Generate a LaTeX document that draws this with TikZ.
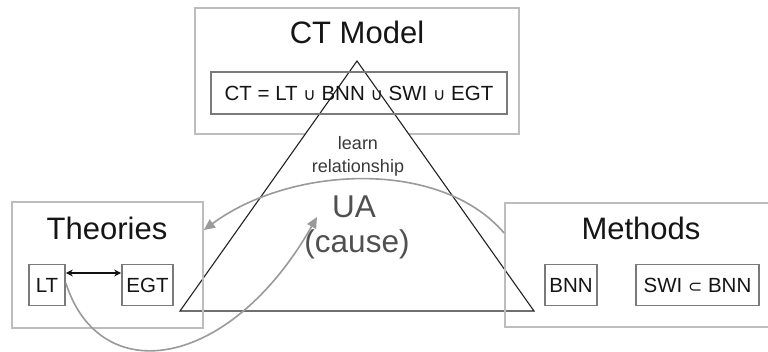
\documentclass[tikz,border=0pt]{standalone}
\usepackage{fontspec}
\setmainfont{Liberation Sans}
\newfontfamily\symfont{DejaVu Sans}
\usetikzlibrary{arrows.meta}
\definecolor{outerline}{HTML}{BDBDBD}
\definecolor{innerline}{HTML}{7A7A7A}
\definecolor{curvecol}{HTML}{9A9A9A}
\definecolor{txt}{HTML}{151515}
\definecolor{notecol}{HTML}{3A3A3A}
\definecolor{uacol}{HTML}{505050}
\definecolor{tricol}{HTML}{222222}
\definecolor{linkcol}{HTML}{111111}
\newcommand\cupsym{{\symfont\fontsize{17}{17}\selectfont ∪}}
\newcommand\subsym{{\symfont\fontsize{17}{17}\selectfont ⊂}}
\begin{document}
\begin{tikzpicture}[x=1pt,y=-1pt,
  outerbox/.style={draw=outerline,line width=1.8pt,inner sep=0pt},
  smallbox/.style={draw=innerline,line width=1.7pt,inner sep=0pt,text=txt,font=\fontsize{20.5}{22}\selectfont},
  bigtext/.style={text=txt,font=\fontsize{31}{34}\selectfont,inner sep=0pt,anchor=base},
  notetext/.style={text=notecol,font=\fontsize{18}{20}\selectfont,inner sep=0pt,anchor=base},
  uatext/.style={text=uacol,font=\fontsize{31.5}{34}\selectfont,inner sep=0pt,anchor=base},
  flow/.style={draw=curvecol,line width=1.6pt,-{Triangle[length=11pt,width=10pt,fill=curvecol]}},
  linkarrow/.style={draw=linkcol,line width=1.1pt,{Stealth[length=7pt,width=7pt]}-{Stealth[length=7pt,width=7pt]}},
  trianglestyle/.style={draw=tricol,line width=1.1pt,fill=white}]
\useasboundingbox (0,0) rectangle (768,351);
\clip (0,0) rectangle (768,351);
\fill[white] (0,0) rectangle (768,351);

% CT model box
\node[outerbox,minimum width=324,minimum height=126] (ctbox) at (357,71) {};
\node[bigtext] (cttitle) at (357,43) {CT Model};

% triangle
\coordinate (apex) at (357,61);
\coordinate (leftcorner) at (180,311);
\coordinate (rightcorner) at (534,311);
\draw[trianglestyle] (apex) -- (leftcorner) -- (rightcorner) -- cycle;

\node[smallbox,minimum width=296,minimum height=42] (ctset) at (359,93) {CT = LT \cupsym\ BNN \cupsym\ SWI \cupsym\ EGT};

% Theories
\node[outerbox,minimum width=191,minimum height=126] (theories) at (107.5,265) {};
\node[bigtext] (theorytitle) at (107,239) {Theories};
\node[smallbox,minimum width=36,minimum height=41] (lt) at (47,285) {LT};
\node[smallbox,minimum width=51,minimum height=41] (egt) at (147.5,285) {EGT};
\draw[linkarrow] ([yshift=12pt]lt.east) -- ([yshift=12pt]egt.west);

% Methods
\node[outerbox,minimum width=280,minimum height=124] (methods) at (645,265) {};
\node[bigtext] (methodtitle) at (641,239) {Methods};
\node[smallbox,minimum width=52,minimum height=41] (bnn) at (571,285) {BNN};
\node[smallbox,minimum width=123,minimum height=41] (swi) at (697.5,285) {SWI \subsym\ BNN};

% centre labels
\node[notetext] (learn) at (358,149) {learn};
\node[notetext] (relation) at (358,172) {relationship};
\node[uatext] (ua) at (354,217) {UA};
\node[uatext] (cause) at (357,252) {(cause)};
\coordinate (uatip) at (317,217);

% curves
\draw[flow] ([yshift=32pt]methods.west) .. controls (440,158) and (290,166) .. ([yshift=35pt]theories.east);
\draw[flow] ([yshift=2pt]lt.east) .. controls (100,390) and (230,370) .. (uatip);
\end{tikzpicture}
\end{document}
